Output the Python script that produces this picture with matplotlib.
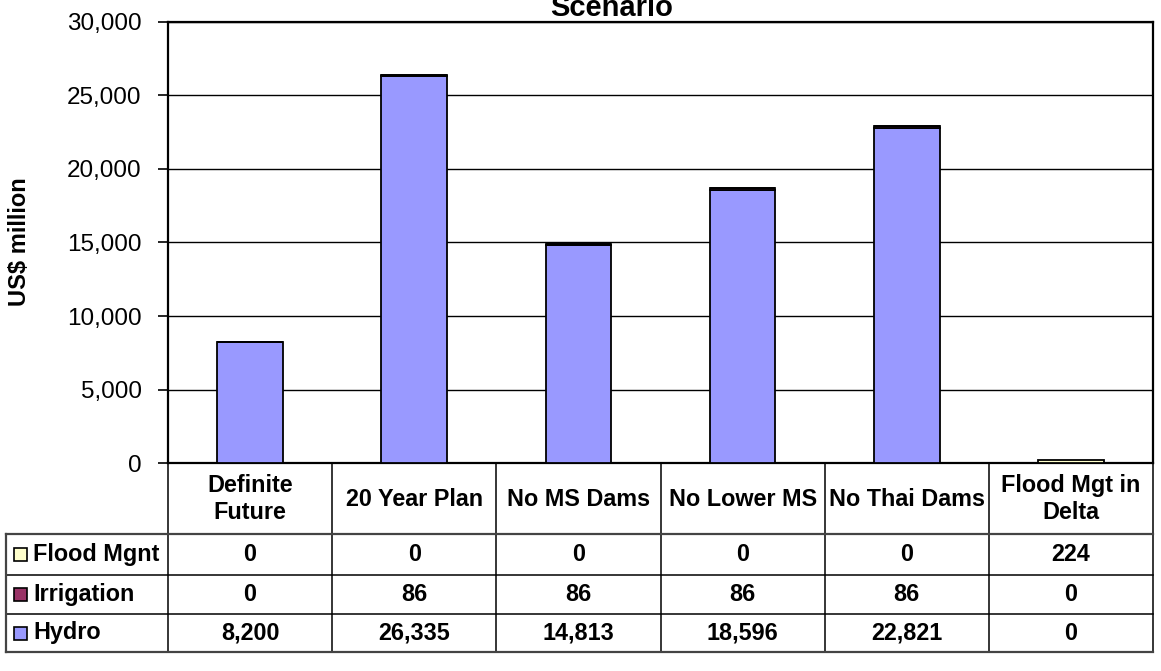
import matplotlib
matplotlib.use("Agg")
import matplotlib.pyplot as plt
import matplotlib.transforms as mtransforms
from matplotlib.patches import Rectangle
from matplotlib.lines import Line2D
import numpy as np

# ---- data -------------------------------------------------------------
scenarios = ["Definite\nFuture", "20 Year Plan", "No MS Dams",
             "No Lower MS", "No Thai Dams", "Flood Mgt in\nDelta"]
hydro = [8200, 26335, 14813, 18596, 22821, 0]
irrigation = [0, 86, 86, 86, 86, 0]
flood_mgnt = [0, 0, 0, 0, 0, 224]
series_names = ["Flood Mgnt", "Irrigation", "Hydro"]
series_colors = ["#FFFFCC", "#993366", "#9999FF"]
y_ticks = [0, 5000, 10000, 15000, 20000, 25000, 30000]
title = "Scenario"
y_label = "US$ million"

# ---- figure layout (pixel based) ----------------------------------------
W, H = 1161, 671
DPI = 100
plt.rcParams["font.family"] = ["Liberation Sans", "DejaVu Sans"]

fig = plt.figure(figsize=(W / DPI, H / DPI), dpi=DPI)
fig.patch.set_facecolor("white")

ax_left, ax_right, ax_top, ax_bottom = 168, 1153, 22, 463
ax = fig.add_axes([ax_left / W, 1 - ax_bottom / H,
                   (ax_right - ax_left) / W, (ax_bottom - ax_top) / H])

x = np.arange(len(scenarios))
hydro_a = np.array(hydro, dtype=float)
irr_a = np.array(irrigation, dtype=float)
flood_a = np.array(flood_mgnt, dtype=float)

bar_w = 0.4
ax.bar(x, hydro_a, width=bar_w, color=series_colors[2],
       edgecolor="black", linewidth=1.3, zorder=3)
ax.bar(x, irr_a, width=bar_w, bottom=hydro_a, color=series_colors[1],
       edgecolor="black", linewidth=1.3, zorder=3)
ax.bar(x, flood_a, width=bar_w, bottom=hydro_a + irr_a,
       color=series_colors[0], edgecolor="black", linewidth=1.3, zorder=3)

ax.set_xlim(-0.5, len(scenarios) - 0.5)
ax.set_ylim(0, 30000)
ax.set_yticks(y_ticks)
ax.set_yticklabels([f"{v:,}" for v in y_ticks], fontsize=17.5)
ax.set_xticks([])
ax.tick_params(axis="y", direction="out", length=7, width=1.2, pad=12,
               color="black")
ax.yaxis.grid(True, color="black", linewidth=1.0)
ax.set_axisbelow(True)
for s in ax.spines.values():
    s.set_color("black")
    s.set_linewidth(1.6)

fig.text(612 / W, 1 - 16 / H, title, ha="center", va="baseline",
         fontsize=21, fontweight="bold")
fig.text(20 / W, 1 - 242 / H, y_label, ha="center", va="center",
         rotation=90, fontsize=17, fontweight="bold")

# ---- data table underneath --------------------------------------------
def fy(py):
    return 1 - py / H

def fx(px):
    return px / W

blend = mtransforms.blended_transform_factory(ax.transData, fig.transFigure)

tbl_left = 6
hdr_top, hdr_bot = 464, 534
row_edges = [534, 575, 614, 652]
line_kw = dict(color="black", linewidth=1.1)
tbl_fs = 16.8

# column separators through header and body
for k in range(len(scenarios) + 1):
    xb = k - 0.5
    fig.add_artist(Line2D([xb, xb], [fy(hdr_top), fy(row_edges[-1])],
                          transform=blend, **line_kw))
# horizontal row separators
for i, py in enumerate(row_edges):
    outer = i in (0, len(row_edges) - 1)
    fig.add_artist(Line2D([fx(tbl_left), fx(ax_right)], [fy(py), fy(py)],
                          transform=fig.transFigure,
                          color="#444444" if outer else "black",
                          linewidth=1.6 if outer else 1.1))
# left border of the legend column
fig.add_artist(Line2D([fx(tbl_left), fx(tbl_left)],
                      [fy(row_edges[0]), fy(row_edges[-1])],
                      transform=fig.transFigure, color="#444444",
                      linewidth=1.6))

# header labels
for xi, name in zip(x, scenarios):
    fig.text(xi, fy((hdr_top + hdr_bot) / 2), name, transform=blend,
             ha="center", va="center", fontsize=tbl_fs, fontweight="bold",
             linespacing=1.2)

# body rows: series key, name and values
row_values = [flood_mgnt, irrigation, hydro]
for r, (name, color, vals) in enumerate(zip(series_names, series_colors,
                                             row_values)):
    top, bot = row_edges[r], row_edges[r + 1]
    cy = (top + bot) / 2
    key = 13
    fig.add_artist(Rectangle((fx(14), fy(cy + key / 2)), key / W, key / H,
                             transform=fig.transFigure, facecolor=color,
                             edgecolor="black", linewidth=1.2))
    fig.text(fx(33), fy(cy), name, ha="left", va="center", fontsize=tbl_fs,
             fontweight="bold")
    for xi, v in zip(x, vals):
        fig.text(xi, fy(cy), f"{v:,}", transform=blend, ha="center",
                 va="center", fontsize=tbl_fs, fontweight="bold")

fig.savefig("out.png", dpi=DPI, facecolor="white")
